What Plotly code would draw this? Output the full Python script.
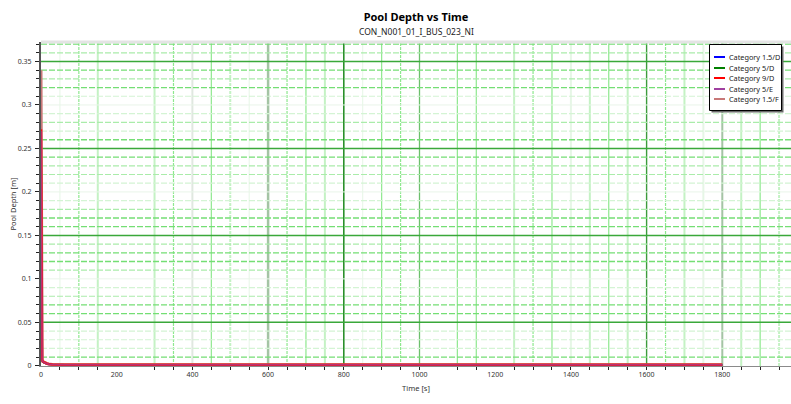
import plotly.graph_objects as go

# ---------------- data ----------------
time_s = [0, 1, 2, 3, 5, 10, 15, 20, 30, 60, 120, 300, 600, 1000, 1400, 1800]
depth_15D = [0.250, 0.024, 0.0100, 0.0062, 0.0043, 0.0031, 0.0024, 0.0019, 0.0014, 0.0011, 0.0010, 0.0010, 0.0010, 0.0010, 0.0010, 0.0010]
depth_5D = [0.255, 0.025, 0.0105, 0.0064, 0.0045, 0.0032, 0.0025, 0.0020, 0.0015, 0.0012, 0.0011, 0.0011, 0.0011, 0.0011, 0.0011, 0.0011]
depth_9D = [0.272, 0.028, 0.0120, 0.0070, 0.0048, 0.0035, 0.0027, 0.0021, 0.0016, 0.0012, 0.0011, 0.0011, 0.0011, 0.0011, 0.0011, 0.0011]
depth_5E = [0.270, 0.027, 0.0115, 0.0068, 0.0047, 0.0034, 0.0026, 0.0020, 0.0015, 0.0012, 0.0011, 0.0011, 0.0011, 0.0011, 0.0011, 0.0011]
depth_15F = [0.340, 0.030, 0.0125, 0.0072, 0.0050, 0.0036, 0.0028, 0.0022, 0.0016, 0.0013, 0.0012, 0.0012, 0.0012, 0.0012, 0.0012, 0.0012]

series_names = ["Category 1.5/D", "Category 5/D", "Category 9/D", "Category 5/E", "Category 1.5/F"]
series_values = [depth_15D, depth_5D, depth_9D, depth_5E, depth_15F]
series_colors = ["#0000ff", "#008000", "#ff0000", "#a040a0", "#c87878"]

x_tick_labels = [0, 200, 400, 600, 800, 1000, 1200, 1400, 1600, 1800]
y_tick_labels = [0, 0.05, 0.1, 0.15, 0.2, 0.25, 0.3, 0.35]

# ---------------- styling ----------------
FONT = "Noto Sans"
W, H = 791, 404
PL, PT, PR, PB = 41, 42, 0, 38
PW, PH = W - PL - PR, H - PT - PB
XR = [0, 1981.5]
YR = [-0.0002, 0.3724]


def px_x(px):
    return (px - PL) / PW


def px_y(py):
    return (PT + PH - py) / PH


# vertical grid styles: (position, color, width, dash)
C_FAINT = "#e6f6e6"
C_LIGHT = "#c4f2c4"
C_MED = "#8ee88e"
C_DARKG = "#2a902a"
C_GREY = "#a4c4a4"
D = "3px,1px"
vgrid = [
    (50, C_FAINT, 1, "solid"), (100, C_MED, 1.2, D), (150, C_LIGHT, 2, "solid"),
    (300, C_LIGHT, 2, "solid"), (350, C_MED, 1.2, D), (400, "#e0e8e0", 2, "solid"),
    (450, C_MED, 1.2, "solid"), (500, C_LIGHT, 2, D), (550, C_FAINT, 1, "solid"),
    (600, C_GREY, 2.5, "solid"), (650, C_MED, 1.2, D), (700, C_MED, 1.2, "solid"),
    (750, C_LIGHT, 2, "solid"), (800, C_DARKG, 1.6, "solid"), (850, C_FAINT, 1, "solid"),
    (900, C_MED, 1.2, "solid"), (950, C_MED, 1.2, D), (1000, "#6cc06c", 1.3, "solid"),
    (1100, C_MED, 1.2, "solid"), (1150, C_MED, 1.2, "solid"), (1250, C_LIGHT, 2, "solid"),
    (1300, C_MED, 1.2, D), (1350, C_MED, 1.2, "solid"), (1400, C_FAINT, 2, "solid"),
    (1450, C_LIGHT, 2, "solid"), (1500, C_MED, 1.2, "solid"), (1550, C_LIGHT, 2, "solid"),
    (1600, "#3c9c3c", 1.4, "solid"), (1650, C_MED, 1.2, D), (1700, C_LIGHT, 2, "solid"),
    (1750, C_FAINT, 2, "solid"), (1800, C_GREY, 2, "solid"), (1850, C_LIGHT, 2, "solid"),
    (1900, C_MED, 1.2, "solid"), (1950, C_LIGHT, 2, D),
]

hgrid = []
for i in range(1, 38):
    v = round(i * 0.01, 2)
    if i % 10 == 0:
        hgrid.append((v, "#eaf5ea", 1, "solid"))
    elif i % 5 == 0:
        hgrid.append((v, "#3aa83a", 1.5, "solid"))
    elif i in (31, 29, 27, 21, 19, 10, 9, 4, 3, 2):
        hgrid.append((v, "#d4f4d4", 1.2, "6px,2px"))
    elif i in (33, 28, 23, 22, 18, 14, 11, 8, 36):
        hgrid.append((v, "#aaecaa", 1.2, "6px,2px"))
    else:
        hgrid.append((v, "#74de74", 1.3, "6px,2px"))

shapes = []
for pos, col, wd, dash in vgrid:
    shapes.append(dict(type="line", xref="x", yref="paper", x0=pos, x1=pos, y0=0, y1=1,
                       line=dict(color=col, width=wd, dash=dash), layer="below"))
for pos, col, wd, dash in hgrid:
    if pos > YR[1]:
        continue
    shapes.append(dict(type="line", xref="paper", yref="y", x0=0, x1=1, y0=pos, y1=pos,
                       line=dict(color=col, width=wd, dash=dash), layer="below"))
# top light border
shapes.append(dict(type="line", xref="paper", yref="paper", x0=0, x1=1, y0=px_y(42), y1=px_y(42),
                   line=dict(color="#e4e4e4", width=3), layer="below"))

# custom compact legend
LX0, LX1, LY0, LY1 = 709.5, 781.5, 44.5, 110.5
shapes.append(dict(type="rect", xref="paper", yref="paper",
                   x0=px_x(LX0 + 2), x1=px_x(LX1 + 2), y0=px_y(LY1 + 2), y1=px_y(LY0 + 2),
                   line=dict(width=0), fillcolor="#6a6a6a", layer="above"))
shapes.append(dict(type="rect", xref="paper", yref="paper",
                   x0=px_x(LX0), x1=px_x(LX1), y0=px_y(LY1), y1=px_y(LY0),
                   line=dict(color="#000000", width=1), fillcolor="#ffffff", layer="above"))
annotations = []
for i, (name, col) in enumerate(zip(series_names, series_colors)):
    ry = 57 + i * 10.6
    shapes.append(dict(type="line", xref="paper", yref="paper",
                       x0=px_x(714), x1=px_x(725), y0=px_y(round(ry)), y1=px_y(round(ry)),
                       line=dict(color=col, width=2), layer="above"))
    annotations.append(dict(text=name, xref="paper", yref="paper", x=px_x(726.5), y=px_y(ry),
                            xanchor="left", yanchor="middle", showarrow=False,
                            font=dict(family=FONT, size=7.3, color="#222222")))

annotations.append(dict(text="CON_N001_01_I_BUS_023_NI", xref="paper", yref="paper",
                        x=0.5, y=px_y(31.5), xanchor="center", yanchor="middle",
                        showarrow=False, font=dict(family=FONT, size=8.5, color="#222222")))

fig = go.Figure()
draw_style = {
    "Category 1.5/D": dict(width=2, opacity=1.0),
    "Category 5/D": dict(width=2, opacity=1.0),
    "Category 1.5/F": dict(width=3, opacity=1.0),
    "Category 9/D": dict(width=2.5, opacity=0.85),
    "Category 5/E": dict(width=1.5, opacity=0.7),
}
order = [0, 1, 4, 2, 3]
for idx in order:
    st = draw_style[series_names[idx]]
    fig.add_trace(go.Scatter(x=time_s, y=series_values[idx], mode="lines", name=series_names[idx],
                             line=dict(color=series_colors[idx], width=st["width"]),
                             opacity=st["opacity"], showlegend=False, cliponaxis=True))

minor_x = [p for p, *_ in vgrid]
minor_y = [round(i * 0.01, 2) for i in range(0, 38)]

fig.update_layout(
    width=W, height=H,
    margin=dict(l=PL, r=PR, t=PT, b=PB, pad=0, autoexpand=False),
    paper_bgcolor="white", plot_bgcolor="white",
    font=dict(family=FONT, size=7, color="#333333"),
    title=dict(text="<b>Pool Depth vs Time</b>", x=0.5, xref="paper", xanchor="center",
               y=1 - 17.5 / H, yref="container", yanchor="middle",
               font=dict(family=FONT, size=11, color="#000000")),
    showlegend=False,
    shapes=shapes,
    annotations=annotations,
    xaxis=dict(range=XR, showgrid=False, zeroline=False, automargin=False,
               tickmode="array", tickvals=x_tick_labels,
               ticktext=[str(v) for v in x_tick_labels],
               ticks="", ticklabelstandoff=2,
               tickfont=dict(family=FONT, size=7, color="#333333"),
               showline=True, linecolor="#8a8a8a", linewidth=1,
               minor=dict(tickmode="array", tickvals=minor_x, ticks="outside", ticklen=3,
                          tickcolor="#222222", tickwidth=1, showgrid=False),
               title=dict(text="Time [s]", font=dict(family=FONT, size=7.5, color="#333333"), standoff=7)),
    yaxis=dict(range=YR, showgrid=False, zeroline=False, automargin=False,
               tickmode="array", tickvals=y_tick_labels,
               ticktext=["0", "0.05", "0.1", "0.15", "0.2", "0.25", "0.3", "0.35"],
               ticks="outside", ticklen=4, tickcolor="#222222", ticklabelstandoff=2,
               tickfont=dict(family=FONT, size=7, color="#333333"),
               showline=True, linecolor="#555555", linewidth=2,
               minor=dict(tickmode="array", tickvals=minor_y, ticks="outside", ticklen=3,
                          tickcolor="#222222", tickwidth=1, showgrid=False),
               title=dict(text="Pool Depth [m]", font=dict(family=FONT, size=7.5, color="#333333"), standoff=0)),
)

fig.write_html("out.html", config={"displayModeBar": False},
               post_script="document.body.style.margin='0';document.body.style.overflow='hidden';")
